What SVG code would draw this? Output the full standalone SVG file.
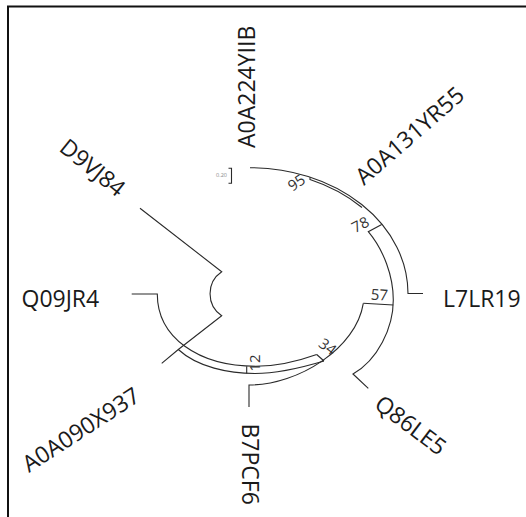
<svg xmlns="http://www.w3.org/2000/svg" width="526" height="517" viewBox="0 0 526 517">
<style>
.leaf{font-family:"Open Sans","DejaVu Sans",sans-serif;font-size:23px;fill:#1a1a1a}
.bs{font-family:"Open Sans","DejaVu Sans",sans-serif;font-size:15px;fill:#333;text-anchor:middle;dominant-baseline:central}
.br{fill:none;stroke:#2a2a2a;stroke-width:1.1}
.frame{fill:none;stroke:#111;stroke-width:2}
.sc{font-family:"Open Sans","DejaVu Sans",sans-serif;font-size:5.5px;fill:#888;text-anchor:end}
</style>
<rect width="526" height="517" fill="#fff"/>
<path class="frame" d="M8,517 V6.5 H526"/>
<g id="connectors">
<path class="br" d="M250,167.7 A158,125.8 0 0 1 408,293.5 H423"/>
<path class="br" d="M310,177.3 V179.5 A156,124 0 0 1 362,207.5"/>
<path class="br" d="M381.7,224.5 L368.3,231.7 C383.7,250.1 393.3,276 393.3,300 C393.3,328 377.6,360.1 353,374 L368.3,388.3"/>
<path class="br" d="M363.3,303.3 L393.3,305"/>
<path class="br" d="M363.3,303.3 C356.3,347.8 299,385 249,385 V407"/>
<path class="br" d="M316.7,354.5 L324,361"/>
<path class="br" d="M131.7,294 H157.3 C157.3,337.1 197.8,366.3 256,366.3 C276,366.3 297.7,361.3 316.7,354.5"/>
<path class="br" d="M178.3,349.5 C197.5,367.2 229,373.5 255,373.5 C278,373.5 302,367.6 324,361"/>
<path class="br" d="M246.7,366.3 V373.5"/>
<path class="br" d="M140,208.3 L221.7,271.7 A26.6,26.6 0 0 0 221.7,315.7 L178.3,349.5 L161.7,363.3"/>
</g>
<g id="bootstrap">
<text class="bs" transform="translate(296,182) rotate(-35)">95</text>
<text class="bs" transform="translate(360,224) rotate(-27)">78</text>
<text class="bs" transform="translate(379.5,294) rotate(4)">57</text>
<text class="bs" transform="translate(328,346) rotate(37)">34</text>
<text class="bs" transform="translate(254,363) rotate(-90)">12</text>
</g>
<g id="scale">
<path class="br" d="M228.5,168.3 H231.5 V183.3 H228.5"/>
<text class="sc" x="227" y="177">0.20</text>
</g>
<g id="n-A0A224YIIB"><text class="leaf" transform="translate(255,148) rotate(-90)">A0A224YIIB</text></g>
<g id="n-A0A131YR55"><text class="leaf" transform="translate(364,186) rotate(-41)">A0A131YR55</text></g>
<g id="n-L7LR19"><text class="leaf" x="443" y="307">L7LR19</text></g>
<g id="n-Q86LE5"><text class="leaf" transform="translate(373,407) rotate(37)">Q86LE5</text></g>
<g id="n-B7PCF6"><text class="leaf" transform="translate(241.7,423.5) rotate(90)">B7PCF6</text></g>
<g id="n-A0A090X937"><text class="leaf" transform="translate(29,473) rotate(-33)">A0A090X937</text></g>
<g id="n-Q09JR4"><text class="leaf" x="21.5" y="306.5">Q09JR4</text></g>
<g id="n-D9VJ84"><text class="leaf" transform="translate(58,150) rotate(39)">D9VJ84</text></g>
</svg>
